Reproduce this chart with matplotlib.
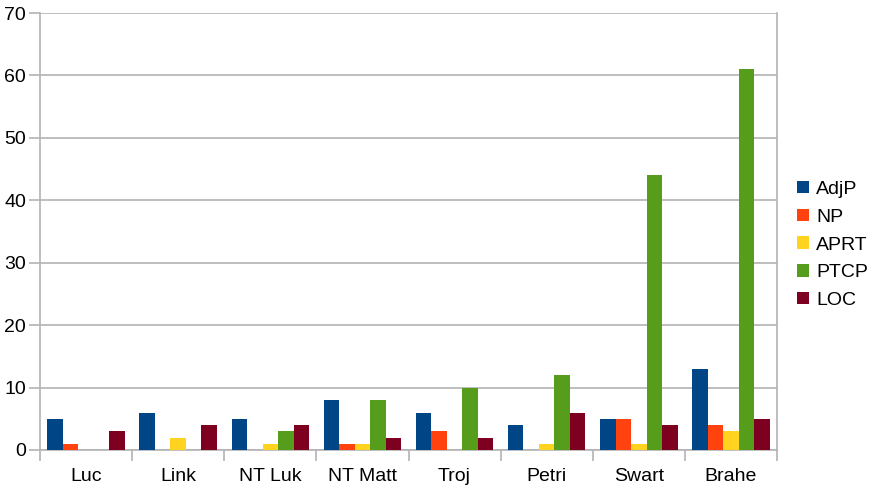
import matplotlib.pyplot as plt
import numpy as np

plt.rcParams['font.family'] = ['Liberation Sans', 'DejaVu Sans']

texts = ['Luc', 'Link', 'NT Luk', 'NT Matt', 'Troj', 'Petri', 'Swart', 'Brahe']
adjp = [5, 6, 5, 8, 6, 4, 5, 13]
np_ = [1, 0, 0, 1, 3, 0, 5, 4]
aprt = [0, 2, 1, 1, 0, 1, 1, 3]
ptcp = [0, 0, 3, 8, 10, 12, 44, 61]
loc = [3, 4, 4, 2, 2, 6, 4, 5]

series = [('AdjP', adjp, '#004586'), ('NP', np_, '#ff420e'), ('APRT', aprt, '#ffd320'),
          ('PTCP', ptcp, '#579d1c'), ('LOC', loc, '#7e0021')]

fig = plt.figure(figsize=(8.75, 4.88), dpi=100)
ax = fig.add_axes([40 / 875, 38 / 488, 737 / 875, 437 / 488])

x = np.arange(len(texts))
w = 0.168
for i, (name, vals, col) in enumerate(series):
    ax.bar(x + (i - 2) * w, vals, w, color=col, label=name, zorder=3)

ax.set_xlim(-0.5, len(texts) - 0.5)
ax.set_ylim(0, 70)
ax.set_yticks(range(0, 71, 10))
ax.set_xticks(x)
ax.set_xticklabels(texts)
ax.set_xticks(np.arange(-0.5, len(texts), 1), minor=True)
ax.tick_params(axis='x', which='major', length=0, pad=13, labelsize=14)
ax.tick_params(axis='x', which='minor', length=8, color='#b3b3b3', width=1.2)
ax.tick_params(axis='y', length=8, color='#b3b3b3', width=1.2, labelsize=14, pad=2)
ax.grid(axis='y', color='#b3b3b3', lw=1.2, zorder=0)
for s in ['left', 'right', 'bottom']:
    ax.spines[s].set_color('#b3b3b3')
    ax.spines[s].set_linewidth(1.2)
ax.spines['top'].set_visible(False)

leg = fig.legend(loc='center left', bbox_to_anchor=(797 / 875, 243 / 488), frameon=False,
                 fontsize=14, handlelength=0.6, handleheight=0.6, handletextpad=0.4,
                 labelspacing=0.55, borderpad=0, borderaxespad=0)

plt.savefig('out.png')
